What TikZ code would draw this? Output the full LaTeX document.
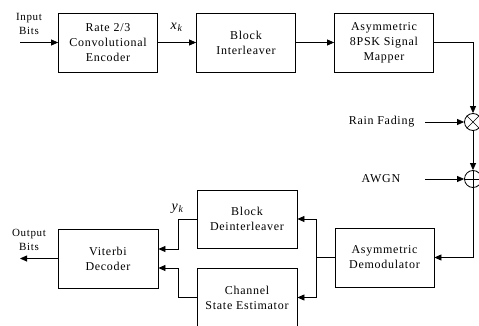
\documentclass[tikz,border=0pt]{standalone}
\usepackage{fontspec}
\setmainfont{Liberation Serif}[LetterSpace=6]
\usetikzlibrary{arrows.meta, positioning}

\begin{document}
\begin{tikzpicture}[x=1pt, y=-1pt, >={Triangle[length=7pt,width=6pt]}, line width=0.8pt,
  block/.style={draw, minimum width=99pt, minimum height=59pt, inner sep=0pt, align=center, font=\fontsize{12}{15}\selectfont},
  op/.style={draw, circle, minimum size=17pt, inner sep=0pt},
  lbl/.style={align=center, font=\fontsize{11}{14}\selectfont}]
\useasboundingbox (0,0) rectangle (479,326);

% transmitter
\node[block] (enc) at (108,42.5) {Rate 2/3\\Convolutional\\Encoder};
\node[block] (intl) at (246,42.5) {Block\\Interleaver};
\node[block] (map) at (384,42.5) {Asymmetric\\8PSK Signal\\Mapper};
\node[lbl] (inbits) at (29,24) {Input\\Bits};
\coordinate (in) at (20,42.5);

% channel
\node[op] (mul) at (473,122) {};
\node[op] (add) at (473,179) {};
\draw[line width=0.6pt] (mul.north west) -- (mul.south east) (mul.north east) -- (mul.south west);
\draw[line width=0.6pt] (add.north) -- (add.south) (add.west) -- (add.east);
\node[lbl, anchor=east, font=\fontsize{12}{15}\selectfont] (rain) at (418,122) {Rain Fading};
\node[lbl, anchor=east, font=\fontsize{12}{15}\selectfont] (awgn) at (404,179) {AWGN};
\coordinate (rainin) at (425,122);
\coordinate (awgnin) at (425,179);

% receiver
\node[block] (dem) at (384.5,257.5) {Asymmetric\\Demodulator};
\node[block, minimum width=100pt, minimum height=58pt] (deint) at (247,219) {Block\\Deinterleaver};
\node[block, minimum width=100pt] (cse) at (247,297.5) {Channel\\State Estimator};
\node[block, minimum width=100pt] (vit) at (108,258.5) {Viterbi\\Decoder};
\node[lbl] (outbits) at (29,240) {Output\\Bits};
\coordinate (out) at (20,258.5);
\coordinate (split) at (316,257.5);
\coordinate (jd) at (178,219);
\coordinate (jc) at (178,297.5);

\draw[->] (in) -- (enc);
\draw[->] (enc) -- (intl) node[midway, above=7pt, font=\fontsize{14}{14}\selectfont] (xk) {\textit{x}\textsubscript{\textit{k}}};
\draw[->] (intl) -- (map);
\draw[->] (map.east) -| (mul.north);
\draw[->] (rainin) -- (mul);
\draw[->] (mul) -- (add);
\draw[->] (awgnin) -- (add);
\draw[->] (add.south) |- (dem.east);
\draw (dem.west) -- (split);
\draw[->] (split) |- (deint.east);
\draw[->] (split) |- (cse.east);
\draw[->] (deint.west) -- (jd) |- ([yshift=9.5pt]vit.east) node[pos=0, above=2pt, font=\fontsize{14}{14}\selectfont] (yk) {\textit{y}\textsubscript{\textit{k}}};
\draw[->] (cse.west) -- (jc) |- ([yshift=-9.5pt]vit.east);
\draw[->] (vit) -- (out);

\end{tikzpicture}
\end{document}
